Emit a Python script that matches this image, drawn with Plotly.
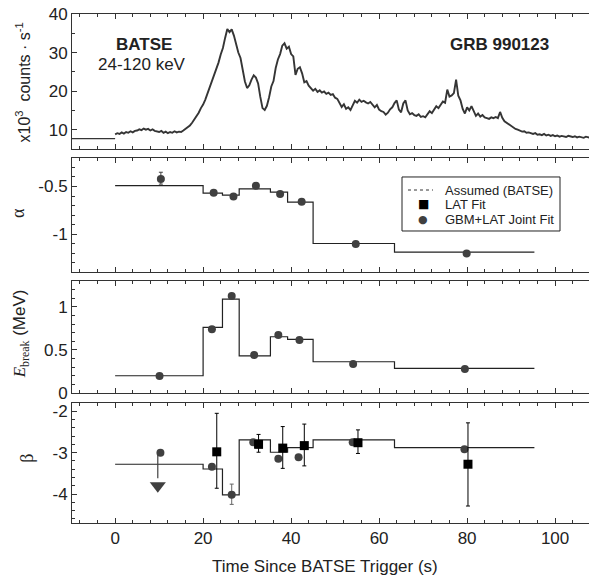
import numpy as np
import plotly.graph_objects as go

# --- BATSE light curve (x10^3 counts/s), 0.5 s bins from trigger
lc_t0, lc_dt = 0.0, 0.5
lc_counts = [
    8.8, 9.1, 8.9, 9.3, 9.0, 9.4, 9.2, 9.6, 9.3, 9.7,
    9.8, 10.1, 9.9, 10.3, 10.0, 10.2, 9.8, 10.1, 9.7, 9.6,
    9.4, 9.7, 9.2, 9.5, 9.1, 9.4, 9.2, 9.6, 9.3, 9.5,
    9.4, 9.8, 10.2, 10.6, 11.1, 11.8, 12.6, 13.5, 14.4, 15.6,
    16.5, 17.8, 19.4, 20.9, 22.6, 24.2, 26.0, 27.4, 29.5, 31.2,
    33.8, 36.1, 35.3, 36.0, 34.4, 32.2, 30.0, 28.6, 25.8, 22.5,
    20.8, 21.5, 23.0, 24.1, 23.5, 22.0, 18.5, 15.6, 15.1, 16.2,
    18.4, 21.2, 22.6, 26.0, 28.2, 29.6, 31.8, 32.4, 31.0, 31.5,
    29.6, 29.0, 24.2, 25.8, 26.2, 24.6, 22.3, 22.6, 21.4, 20.8,
    20.1, 20.6, 19.8, 20.2, 19.6, 19.9, 19.3, 19.6, 19.0, 19.2,
    18.3, 18.0, 16.8, 15.9, 16.6, 15.4, 15.8, 15.1, 16.3, 17.5,
    17.0, 17.8, 17.2, 17.5, 17.1, 16.8, 17.2, 16.5, 15.8, 16.4,
    15.2, 14.8, 14.6, 13.9, 14.4, 15.3, 15.8, 16.9, 17.6, 15.2,
    14.5, 16.8, 17.6, 15.0, 14.0, 14.3, 13.8, 13.6, 14.0, 13.3,
    13.5, 13.2, 14.1, 14.8, 14.3, 15.2, 16.1, 15.6, 16.5, 17.3,
    17.0, 20.4, 18.6, 18.9, 19.5, 23.0, 18.8, 17.6, 15.4, 14.2,
    15.8, 15.0, 16.1, 14.8, 13.6, 14.2, 13.4, 13.8, 13.2, 13.0,
    12.8, 13.2, 13.0, 13.3, 13.0, 14.6, 13.1, 12.2, 11.8, 11.2,
    11.0, 10.6, 10.2, 10.0, 9.7, 9.5, 9.6, 9.2, 9.3, 9.0,
    8.9, 9.1, 8.7, 8.8, 8.6, 8.9, 8.5, 8.7, 8.4, 8.6,
    8.3, 8.5, 8.2, 8.4, 8.3, 8.1, 8.4, 8.2, 8.1, 8.3,
    8.0, 8.2, 8.1, 7.9, 8.2, 8.0, 7.9, 8.1, 7.9, 8.0,
    8.0,
]
pre_t = [-10, 0]
pre_counts = [7.7, 7.7]
lc_t = lc_t0 + lc_dt * np.arange(len(lc_counts))

# --- assumed (BATSE) step functions
bin_edges = [0, 20, 24.4, 28.2, 35.3, 39.2, 45, 63.5, 95.3]
alpha_steps = [-0.49, -0.57, -0.59, -0.525, -0.56, -0.665, -1.10, -1.19]
ebreak_steps = [0.20, 0.763, 1.09, 0.43, 0.653, 0.623, 0.363, 0.287]
beta_steps = [-3.28, -3.395, -4.02, -2.69, -2.99, -2.88, -2.69, -2.88]

# --- GBM+LAT joint fit
joint_t_alpha = [10.4, 22.4, 26.9, 32.0, 37.5, 42.4, 54.7, 79.9]
joint_alpha = [-0.42, -0.565, -0.605, -0.493, -0.578, -0.66, -1.105, -1.205]
joint_alpha_up = [0.07, 0, 0, 0, 0, 0, 0, 0]
joint_alpha_dn = [0.055, 0, 0, 0, 0, 0, 0, 0]

joint_t_eb = [10.1, 22.0, 26.5, 31.6, 37.1, 41.9, 54.1, 79.5]
joint_eb = [0.197, 0.739, 1.126, 0.441, 0.673, 0.615, 0.337, 0.279]

joint_t_beta = [10.3, 22.0, 26.5, 31.4, 37.1, 41.7, 54.0, 79.4]
joint_beta = [-3.0, -3.34, -4.02, -2.75, -3.15, -3.11, -2.75, -2.92]
joint_beta_up = [0, 0, 0.26, 0, 0, 0, 0, 0]
joint_beta_dn = [0, 0, 0.23, 0, 0, 0, 0, 0]

# upper limit on beta in first interval
ul_t = [9.7, 9.7]
ul_beta = [-3.0, -3.62]
ul_head = [-3.8]

# --- LAT only fit
lat_t = [23.1, 32.6, 38.1, 43.0, 55.2, 80.2]
lat_beta = [-2.98, -2.80, -2.89, -2.83, -2.76, -3.28]
lat_beta_up = [0.93, 0.24, 0.52, 0.52, 0.31, 1.00]
lat_beta_dn = [0.88, 0.19, 0.49, 0.49, 0.26, 1.01]

# tick labels (plain hyphen minus like the original)
alpha_ticks = [-1, -0.5]
alpha_ticktext = ['-1', '-0.5']
beta_ticks = [-4, -3, -2]
beta_ticktext = ['-4', '-3', '-2']

legend_labels = ['Assumed (BATSE)', 'LAT Fit', 'GBM+LAT Joint Fit']

SANS = 'Liberation Sans, Arial, sans-serif'
SERIF = 'Liberation Serif, Times New Roman, serif'
DARK = '#353535'
CIRC = '#404040'

fig = go.Figure()

# light curve
fig.add_trace(go.Scatter(x=pre_t, y=pre_counts, mode='lines', line=dict(color=DARK, width=1.2),
                         showlegend=False, xaxis='x', yaxis='y'))
fig.add_trace(go.Scatter(x=lc_t, y=lc_counts, mode='lines', line=dict(color=DARK, width=1.9),
                         showlegend=False, xaxis='x', yaxis='y'))

# step functions
for steps, ax in [(alpha_steps, 2), (ebreak_steps, 3), (beta_steps, 4)]:
    fig.add_trace(go.Scatter(x=bin_edges, y=steps + [steps[-1]], mode='lines',
                             line=dict(color='#222222', width=1.2, shape='hv'),
                             showlegend=False, xaxis='x%d' % ax, yaxis='y%d' % ax))

# alpha points
fig.add_trace(go.Scatter(x=joint_t_alpha, y=joint_alpha, mode='markers',
                         marker=dict(symbol='circle', size=8, color=CIRC),
                         error_y=dict(type='data', array=joint_alpha_up, arrayminus=joint_alpha_dn,
                                      color=CIRC, thickness=1, width=2),
                         showlegend=False, xaxis='x2', yaxis='y2'))
# E_break points
fig.add_trace(go.Scatter(x=joint_t_eb, y=joint_eb, mode='markers',
                         marker=dict(symbol='circle', size=8, color=CIRC),
                         showlegend=False, xaxis='x3', yaxis='y3'))
# beta: upper limit arrow
fig.add_trace(go.Scatter(x=ul_t, y=ul_beta, mode='lines', line=dict(color=CIRC, width=1.2),
                         showlegend=False, xaxis='x4', yaxis='y4'))
fig.add_trace(go.Scatter(x=ul_t[:1], y=ul_head, mode='markers',
                         marker=dict(symbol='triangle-down', size=14, color=CIRC),
                         showlegend=False, xaxis='x4', yaxis='y4'))
fig.add_trace(go.Scatter(x=joint_t_beta, y=joint_beta, mode='markers',
                         marker=dict(symbol='circle', size=8, color=CIRC),
                         error_y=dict(type='data', array=joint_beta_up, arrayminus=joint_beta_dn,
                                      color='#666666', thickness=1, width=2),
                         showlegend=False, xaxis='x4', yaxis='y4'))
fig.add_trace(go.Scatter(x=lat_t, y=lat_beta, mode='markers',
                         marker=dict(symbol='square', size=9, color='black'),
                         error_y=dict(type='data', array=lat_beta_up, arrayminus=lat_beta_dn,
                                      color='black', thickness=1, width=2),
                         showlegend=False, xaxis='x4', yaxis='y4'))

TICKFONT = dict(family=SANS, size=17, color='#222')


def xax(show_labels):
    return dict(range=[-9.8, 109.3], dtick=20, tick0=0, showticklabels=show_labels,
                ticks='inside', ticklen=5, tickwidth=1, tickcolor='#333',
                minor=dict(ticks='inside', ticklen=3, tickmode='linear', dtick=4, tick0=0, tickcolor='#333'),
                showline=True, linecolor='#333', linewidth=1, mirror='allticks',
                showgrid=False, zeroline=False, automargin=False, tickfont=TICKFONT,
                ticklabeloverflow='allow')


def yax(rng, dom, dtick, minor, tickvals=None, ticktext=None):
    d = dict(range=rng, domain=dom,
             ticks='inside', ticklen=5, tickwidth=1, tickcolor='#333',
             minor=dict(ticks='inside', ticklen=3, tickmode='linear', tick0=0, dtick=minor, tickcolor='#333'),
             showline=True, linecolor='#333', linewidth=1, mirror='allticks',
             showgrid=False, zeroline=False, automargin=False, tickfont=TICKFONT,
             ticklabeloverflow='allow')
    if tickvals is None:
        d.update(tickmode='linear', tick0=0, dtick=dtick)
    else:
        d.update(tickmode='array', tickvals=tickvals, ticktext=ticktext)
    return d


# page has an 8px body margin, so the figure is 8px smaller than the window
fig.update_layout(
    width=589, height=568,
    margin=dict(l=64, r=1, t=6, b=53),
    paper_bgcolor='white', plot_bgcolor='white',
    xaxis=dict(xax(False), anchor='y'),
    xaxis2=dict(xax(False), anchor='y2', matches='x'),
    xaxis3=dict(xax(False), anchor='y3', matches='x'),
    xaxis4=dict(xax(True), anchor='y4', matches='x'),
    yaxis=yax([5, 40], [0.7348, 1.0], 10, 5),
    yaxis2=yax([-1.4, -0.2], [0.4931, 0.7171], None, 0.1, alpha_ticks, alpha_ticktext),
    yaxis3=yax([0, 1.3], [0.2554, 0.4754], 0.5, 0.1),
    yaxis4=yax([-4.7, -1.8], [0.0, 0.2358], None, 0.2, beta_ticks, beta_ticktext),
    showlegend=False,
)


def label(text, x, y, size, family=SANS, angle=0, ref='paper', xanchor='center', color='#222'):
    return dict(text=text, x=x, y=y, xref='x' if ref == 'data' else 'paper',
                yref='y' if ref == 'data' else 'paper', xanchor=xanchor, yanchor='middle',
                textangle=angle, showarrow=False, font=dict(family=family, size=size, color=color))


NB = '\u00a0'
annotations = [
    label('<b>BATSE</b>', 6.5, 32, 17, ref='data'),
    label('24-120 keV', 6.0, 26.8, 17, ref='data'),
    label('<b>GRB 990123</b>', 87.4, 32, 17, ref='data'),
    label('x10<sup>3</sup>' + NB * 2 + 'counts' + NB + '·' + NB + 's<sup>-1</sup>', -0.093, 0.866, 16, angle=-90),
    label('α', -0.104, 0.608, 18, family=SERIF, angle=-90),
    label('<i>E</i><sub>break</sub><span style="font-family:Liberation Sans, Arial"> (MeV)</span>',
          -0.097, 0.371, 17, family=SERIF, angle=-90),
    label('β', -0.086, 0.128, 18, family=SERIF, angle=-90),
    label('Time Since BATSE Trigger (s)', 0.4828, -0.0845, 17),
    # legend entries (drawn by hand to match the compact box)
    label(legend_labels[0], 0.708, 0.6542, 13, xanchor='left'),
    label(legend_labels[1], 0.708, 0.6267, 13, xanchor='left'),
    label(legend_labels[2], 0.708, 0.5967, 13, xanchor='left'),
    label('■', 0.6705, 0.6267, 12, family='DejaVu Sans', color='black'),
    label('●', 0.6705, 0.5967, 11, family='DejaVu Sans', color=CIRC),
]
fig.update_layout(annotations=annotations)

fig.update_layout(shapes=[
    dict(type='rect', xref='paper', yref='paper', x0=0.6298, x1=0.9313, y0=0.5737, y1=0.6798,
         line=dict(color='#222', width=1), fillcolor='white', layer='above'),
    dict(type='line', xref='paper', yref='paper', x0=0.6412, x1=0.6889, y0=0.6542, y1=0.6542,
         line=dict(color='#333', width=1, dash='dot')),
])

fig.write_html("out.html")
